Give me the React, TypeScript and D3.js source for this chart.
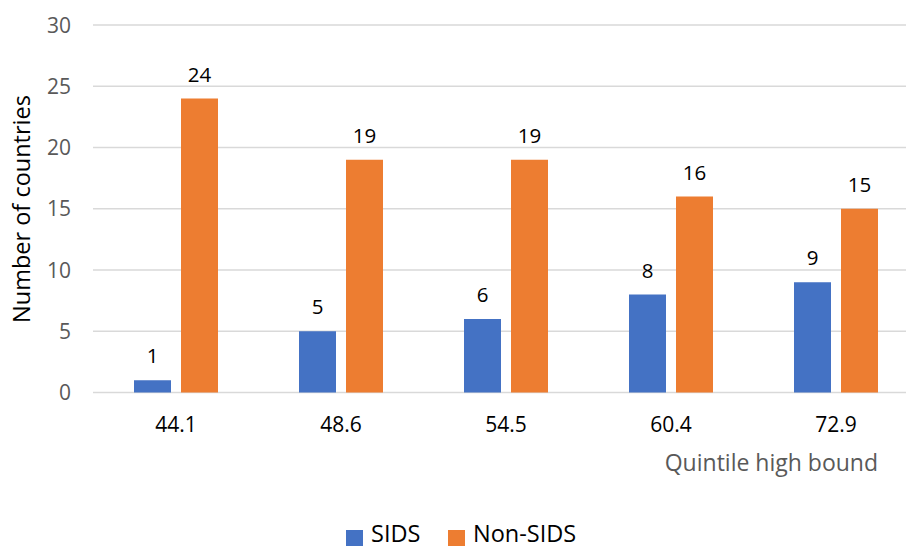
import React from "react";
import * as d3 from "d3";

const categories = ["44.1", "48.6", "54.5", "60.4", "72.9"];
const sids = [1, 5, 6, 8, 9];
const nonSids = [24, 19, 19, 16, 15];
const seriesNames = ["SIDS", "Non-SIDS"];
const yTicks = [0, 5, 10, 15, 20, 25, 30];

const W = 906;
const H = 549;
const FONT = "'Open Sans', 'Liberation Sans', sans-serif";
const COLORS = ["#4472C4", "#ED7D31"];

export default function App() {
  const x = d3.scaleBand<string>().domain(categories).range([93.5, 918.5]);
  const y = d3.scaleLinear().domain([0, 30]).range([392.5, 25]);
  const barW = 37;
  const gap = 10;
  const series = [sids, nonSids];

  return (
    <svg width={W} height={H} style={{ display: "block", position: "absolute", left: 0, top: 0 }} fontFamily={FONT}>
      <rect width={W} height={H} fill="#fff" />
      {yTicks.map((t) => (
        <g key={t}>
          <line x1={93} x2={W} y1={y(t)} y2={y(t)} stroke="#D9D9D9" strokeWidth={1.5} />
          <text x={71} y={y(t)} dy="0.36em" textAnchor="end" fontSize={21} fill="#595959">
            {t}
          </text>
        </g>
      ))}
      {categories.map((c, i) => {
        const cx = (x(c) as number) + x.bandwidth() / 2;
        return (
          <g key={c}>
            {series.map((vals, s) => {
              const bx = cx + (s === 0 ? -gap / 2 - barW : gap / 2);
              const v = vals[i];
              return (
                <g key={s}>
                  <rect x={bx} y={y(v)} width={barW} height={y(0) - y(v)} fill={COLORS[s]} />
                  <text x={bx + barW / 2} y={y(v) - 17} textAnchor="middle" fontSize={20.5} fill="#000">
                    {v}
                  </text>
                </g>
              );
            })}
            <text x={cx} y={432} textAnchor="middle" fontSize={21} fill="#000">
              {c}
            </text>
          </g>
        );
      })}
      <text
        transform={`translate(30,209) rotate(-90)`}
        textAnchor="middle"
        fontSize={23.5}
        fill="#000"
      >
        Number of countries
      </text>
      <text x={878} y={471} textAnchor="end" fontSize={23} fill="#595959">
        Quintile high bound
      </text>
      {seriesNames.map((n, s) => {
        const lx = s === 0 ? 346 : 448;
        return (
          <g key={n}>
            <rect x={lx} y={530} width={17} height={16} fill={COLORS[s]} />
            <text x={lx + 25} y={542} fontSize={23.5} fill="#000">
              {n}
            </text>
          </g>
        );
      })}
    </svg>
  );
}
